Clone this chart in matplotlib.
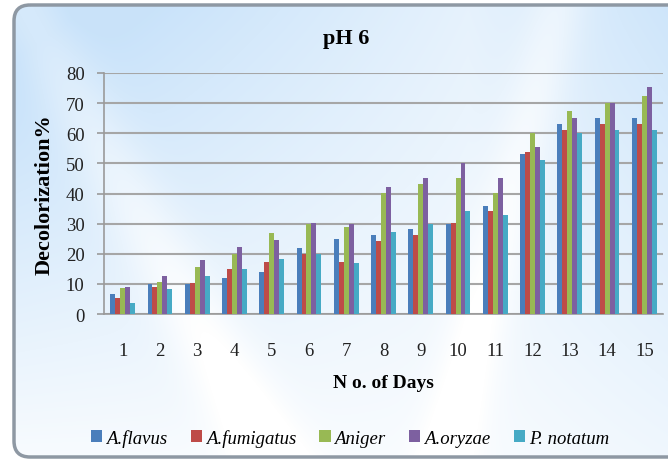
import numpy as np
import matplotlib
matplotlib.use("Agg")
import matplotlib.pyplot as plt
from matplotlib.patches import FancyBboxPatch

days = list(range(1, 16))
series_names = ["A.flavus", "A.fumigatus", "Aniger", "A.oryzae", "P. notatum"]
a_flavus    = [6.8, 9.9, 9.9, 12.1, 14.1, 22.0, 25.0, 26.1, 28.2, 30.0, 35.7, 53.2, 63.2, 65.2, 65.2]
a_fumigatus = [5.3, 9.1, 10.3, 15.0, 17.4, 19.9, 17.4, 24.1, 26.1, 30.3, 34.1, 53.8, 61.2, 63.2, 63.2]
a_niger     = [8.6, 10.6, 15.7, 19.9, 26.8, 29.9, 28.8, 40.2, 43.2, 45.3, 40.2, 60.1, 67.3, 70.2, 72.3]
a_oryzae    = [8.8, 12.7, 18.0, 22.1, 24.7, 30.3, 29.9, 42.1, 45.3, 50.1, 45.3, 55.3, 65.2, 70.2, 75.2]
p_notatum   = [3.6, 8.3, 12.7, 15.0, 18.2, 19.9, 16.8, 27.1, 30.0, 34.1, 33.0, 51.1, 60.1, 61.2, 61.2]
colors = ["#4A7EBB", "#BE4B48", "#98B954", "#7D60A0", "#46AAC5"]
yticks = list(range(0, 81, 10))

W, H = 668, 464
fig = plt.figure(figsize=(W / 100, H / 100), dpi=100)
fig.patch.set_facecolor("white")

# background frame
bg = fig.add_axes([0, 0, 1, 1], zorder=0)
bg.set_xlim(0, W)
bg.set_ylim(H, 0)
bg.axis("off")
yy, xx = np.mgrid[0:H, 0:W]
u = xx / W
v = yy / H
t = np.clip(0.9 * (1 - u) * (1 - v) * 1.3 + 0.8 * np.clip((u - 0.7) / 0.3, 0, 1) * (1 - 0.8 * v), 0, 1)
streak1 = np.exp(-((xx - 0.55 * yy - 20) / 40.0) ** 2) * 0.35
streak2 = np.exp(-((xx + 0.25 * yy - 560) / 30.0) ** 2) * 0.3
t = np.clip(t - streak1 - streak2 + 0.12, 0, 1)
c0 = np.array([1.0, 1.0, 1.0])
c1 = np.array([0.79, 0.89, 0.98])
img = c0[None, None, :] * (1 - t[..., None]) + c1[None, None, :] * t[..., None]
frame = FancyBboxPatch((14, 6), 680, 452, boxstyle="round,pad=0,rounding_size=16",
                       facecolor="none", edgecolor="#8e98a3", linewidth=2.5, zorder=3)
bg.add_patch(frame)
im = bg.imshow(img, extent=(0, W, H, 0), zorder=1, aspect="auto")
im.set_clip_path(frame)

ax = fig.add_axes([104 / W, 1 - 315 / H, (663 - 104) / W, (315 - 74) / H], zorder=2)
ax.patch.set_alpha(0)
x = np.arange(len(days))
bw = 0.133
all_series = [a_flavus, a_fumigatus, a_niger, a_oryzae, p_notatum]
for i, (vals, c, name) in enumerate(zip(all_series, colors, series_names)):
    ax.bar(x + (i - 2) * bw, vals, width=bw, color=c, label=name, zorder=3, linewidth=0)

ax.set_xlim(-0.5, len(days) - 0.5)
ax.set_ylim(0, 80)
ax.set_yticks(yticks)
ax.set_xticks(x)
ax.set_xticklabels([str(d) for d in days])
ax.yaxis.grid(True, color="#a6a6a6", linewidth=1.5, zorder=0)
ax.set_axisbelow(True)
for s in ["top", "right"]:
    ax.spines[s].set_visible(False)
ax.spines["left"].set_color("#9a9a9a")
ax.spines["bottom"].set_color("#9a9a9a")
ax.spines["left"].set_linewidth(1.2)
ax.spines["bottom"].set_linewidth(1.2)
serif = "Liberation Serif"
ax.tick_params(axis="y", length=5, color="#9a9a9a", width=1.2, pad=9,
               labelsize=13.5, labelcolor="#222222")
ax.tick_params(axis="x", length=0, pad=20, labelsize=13.5, labelcolor="#222222")
for lab in ax.get_xticklabels() + ax.get_yticklabels():
    lab.set_fontfamily(serif)

fig.text(346 / W, 1 - 39 / H, "pH 6", ha="center", va="center", fontsize=16,
         fontweight="bold", family=serif)
fig.text(45 / W, 1 - 195 / H, "Decolorization%", ha="center", va="center", rotation=90,
         fontsize=16, fontweight="bold", family=serif)
fig.text(383 / W, 1 - 383 / H, "N o. of Days", ha="center", va="center",
         fontsize=14, fontweight="bold", family=serif)

handles, labels = ax.get_legend_handles_labels()
leg = fig.legend(handles, labels, loc="center", bbox_to_anchor=(350 / W, 1 - 439 / H),
                 ncol=5, frameon=False, handlelength=0.6, handleheight=0.6,
                 handletextpad=0.2, columnspacing=1.25,
                 prop={"family": serif, "style": "italic", "size": 13.5})

fig.savefig("out.png", dpi=100)
